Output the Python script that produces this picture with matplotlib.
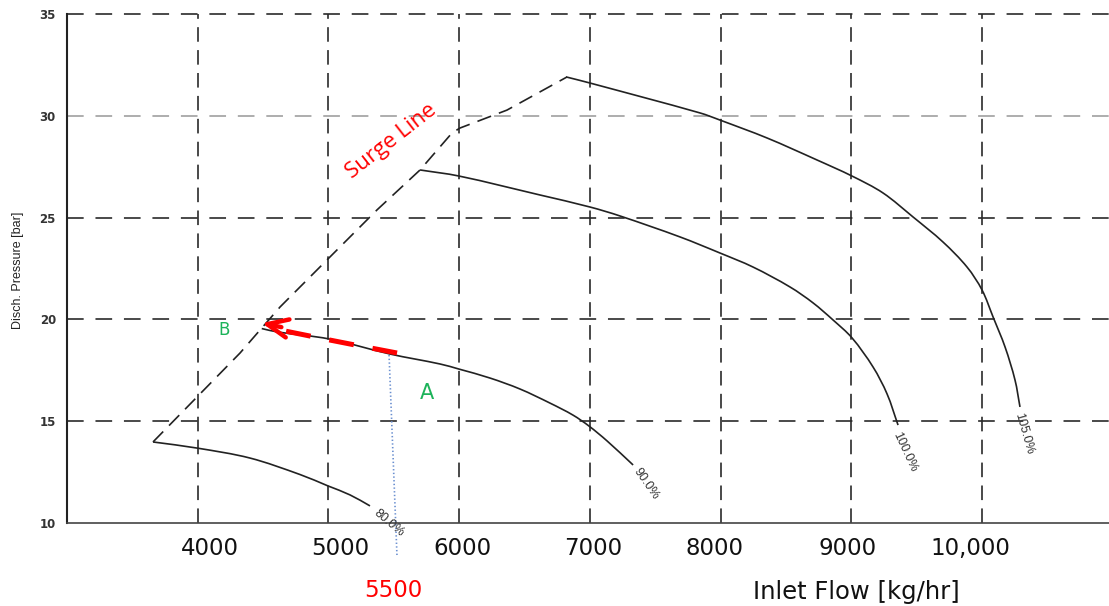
import matplotlib
matplotlib.use("Agg")
import matplotlib.pyplot as plt
import matplotlib.transforms as mtransforms
from matplotlib.path import Path
from matplotlib.patches import PathPatch
import numpy as np

plt.rcParams["lines.scale_dashes"] = False

# ---- compressor map data ----
flow_80 = [3658, 3995, 4400, 4783, 4997, 5165, 5318]
p_80 = [13.98, 13.68, 13.19, 12.38, 11.82, 11.38, 10.84]

flow_90 = [4490, 4614, 5005, 5471, 5854, 5999, 6236, 6466, 6695, 6871, 6994, 7132, 7331]
p_90 = [19.55, 19.38, 19.04, 18.30, 17.81, 17.56, 17.12, 16.58, 15.89, 15.30, 14.76, 14.03, 12.85]

flow_100 = [5701, 6000, 6619, 7001, 7231, 7690, 7996, 8249, 8532, 8708, 8861, 9006, 9167, 9274, 9358]
p_100 = [27.34, 27.04, 26.11, 25.52, 25.08, 24.05, 23.26, 22.57, 21.59, 20.81, 19.97, 19.09, 17.66, 16.34, 14.81]

flow_105 = [6818, 7001, 7843, 7996, 8356, 8738, 9006, 9243, 9473, 9702, 9886, 10001, 10085, 10177, 10253, 10291]
p_105 = [31.91, 31.61, 30.14, 29.79, 28.91, 27.83, 27.04, 26.21, 25.03, 23.80, 22.57, 21.44, 20.12, 18.64, 17.02, 15.70]

surge_flow = [3658, 4324, 4630, 4989, 5372, 5701, 5946, 6007, 6366, 6826]
surge_p = [13.98, 18.35, 20.61, 22.92, 25.38, 27.34, 29.16, 29.40, 30.28, 31.91]

# operating point move A -> B along the 90 % speed line
move_flow = [5525, 5190, 5000, 4668]
move_p = [18.35, 18.76, 19.00, 19.43]
arrow_tail = (4640, 19.62)
arrow_tip = (4490, 19.82)

# vertical marker at the selected flow
marker_flow = [5464, 5525]
marker_p = [18.25, 8.33]
selected_flow = 5500

speed_labels = ["80.0%", "90.0%", "100.0%", "105.0%"]
speed_label_flow = [5464, 7430, 9412, 10322]
speed_label_p = [10.0, 11.9, 13.5, 14.4]
speed_label_rot = [-40, -55, -65, -74]

x_ticks = [4000, 5000, 6000, 7000, 8000, 9000, 10000]
x_tick_labels = ["4000", "5000", "6000", "7000", "8000", "9000", "10,000"]
y_ticks = [10, 15, 20, 25, 30, 35]


def smooth_path(ax, xs, ys):
    """Chord-length Catmull-Rom curve through the points, as cubic Beziers.

    Chord lengths are measured in screen units so uneven point spacing and
    the different axis scales do not cause overshoot.
    """
    pts = np.column_stack([xs, ys]).astype(float)
    scr = ax.transData.transform(pts)
    n = len(pts)
    d = np.hypot(*np.diff(scr, axis=0).T)
    t = np.concatenate([[0], np.cumsum(d)])
    tang = np.zeros_like(pts)
    for i in range(n):
        a = max(i - 1, 0)
        b = min(i + 1, n - 1)
        tang[i] = (pts[b] - pts[a]) / (t[b] - t[a])
    verts = [pts[0]]
    codes = [Path.MOVETO]
    for i in range(n - 1):
        h = t[i + 1] - t[i]
        verts += [pts[i] + tang[i] * h / 3, pts[i + 1] - tang[i + 1] * h / 3, pts[i + 1]]
        codes += [Path.CURVE4] * 3
    return Path(verts, codes)


# ---- figure ----
fig = plt.figure(figsize=(11.09, 6.06), dpi=100)
ax = fig.add_axes([67 / 1109, 83 / 606, 1042 / 1109, 509 / 606])
ax.set_xlim(3000, 10972)
ax.set_ylim(10, 35)

for side in ("top", "right"):
    ax.spines[side].set_visible(False)
ax.spines["left"].set_linewidth(1.5)
ax.spines["left"].set_color("#222222")
ax.spines["bottom"].set_linewidth(1.2)
ax.spines["bottom"].set_color("#444444")

# dashed grid
for x in x_ticks:
    ax.plot([x, x], [10, 35], color="#2a2a2a", lw=1.2, ls=(0, (10.5, 6)), zorder=1)
for y in [15, 20, 25, 30, 35]:
    col = "#a0a0a0" if y == 30 else "#2a2a2a"
    ax.plot([3000, 10972], [y, y], color=col, lw=1.2, ls=(0, (12, 8.5)),
            zorder=1, clip_on=False)

# speed lines
for f, p in [(flow_80, p_80), (flow_90, p_90), (flow_100, p_100), (flow_105, p_105)]:
    ax.add_patch(PathPatch(smooth_path(ax, f, p), fill=False, edgecolor="#222222",
                           lw=1.2, zorder=3))

# surge line
ax.plot(surge_flow, surge_p, color="#222222", lw=1.2, ls=(0, (10.5, 6)), zorder=3)

# operating point move
ax.plot(move_flow, move_p, color="#ff0000", lw=3.6, ls=(0, (18, 13.7)),
        solid_capstyle="butt", dash_capstyle="butt", zorder=4)
ax.annotate("", xy=arrow_tip, xytext=arrow_tail,
            arrowprops=dict(arrowstyle="->,head_length=0.75,head_width=0.33",
                            color="#ff0000", lw=3.2, mutation_scale=20,
                            shrinkA=0, shrinkB=0), zorder=5)

ax.plot(marker_flow, marker_p, color="#6a8fd0", lw=1.2, ls=":", zorder=4, clip_on=False)

# annotations
ax.text(5755, 16.4, "A", color="#1db35a", fontsize=15, family="DejaVu Sans",
        ha="center", va="center")
ax.text(4201, 19.48, "B", color="#1db35a", fontsize=12, family="DejaVu Sans",
        ha="center", va="center")
ax.text(5479, 28.76, "Surge Line", color="#ff0000", fontsize=16, family="Open Sans",
        rotation=38, rotation_mode="anchor", ha="center", va="center")

for lab, fx, py, rot in zip(speed_labels, speed_label_flow, speed_label_p, speed_label_rot):
    ax.text(fx, py, lab, fontsize=9, color="#333333", family="Liberation Sans",
            rotation=rot, rotation_mode="anchor", ha="center", va="center", zorder=6)

# axes labels and ticks
ax.set_yticks(y_ticks)
ax.set_yticklabels([str(v) for v in y_ticks], fontsize=8.5, fontweight="bold",
                   color="#333333", family="DejaVu Sans")
ax.tick_params(axis="y", length=0, pad=8)
ax.set_xticks([])

label_nudge_px = [12, 12, 3, 3, -6, -4, -12]
xt = mtransforms.blended_transform_factory(ax.transData, ax.transAxes)
for v, lab, dx in zip(x_ticks, x_tick_labels, label_nudge_px):
    tr = xt + mtransforms.ScaledTranslation(dx / 100, 0, fig.dpi_scale_trans)
    ax.text(v, -0.051, lab, transform=tr, fontsize=16.5, family="DejaVu Sans",
            color="#111111", ha="center", va="center", clip_on=False)

ax.text(selected_flow, -0.132, str(selected_flow), transform=xt, fontsize=16.5,
        family="DejaVu Sans", color="#ff0000", ha="center", va="center", clip_on=False)

fig.text(856 / 1109, 1 - 592 / 606, "Inlet Flow [kg/hr]", fontsize=17.5,
         family="DejaVu Sans", color="#111111", ha="center", va="center")
fig.text(18 / 1109, 1 - 270 / 606, "Disch. Pressure [bar]", fontsize=9,
         family="Liberation Sans", rotation=90,
         color="#222222", ha="center", va="center")

fig.savefig("out.png", dpi=100)
